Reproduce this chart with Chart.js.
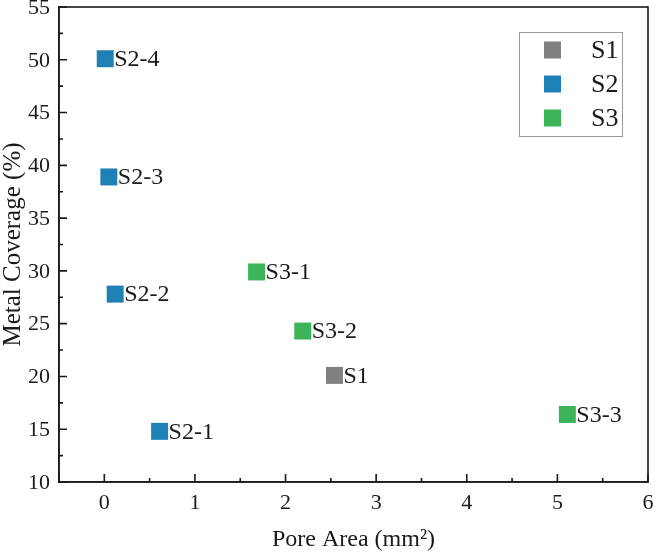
<!DOCTYPE html>
<html>
<head>
<meta charset="utf-8">
<script src="https://cdn.jsdelivr.net/npm/chart.js@4"></script>
<style>
  html, body { margin: 0; padding: 0; background: #fff; }
  #wrap { width: 655px; height: 556px; }
</style>
</head>
<body>
<div id="wrap"><canvas id="c" width="655" height="556"></canvas></div>
<script>
// data: pore area (mm2) vs metal coverage (%)
const s1X = [2.54];
const s1Y = [20.1];
const s1Names = ['S1'];
const s2X = [0.61, 0.12, 0.05, 0.01];
const s2Y = [14.8, 27.8, 38.9, 50.1];
const s2Names = ['S2-1', 'S2-2', 'S2-3', 'S2-4'];
const s3X = [1.68, 2.19, 5.11];
const s3Y = [29.9, 24.3, 16.4];
const s3Names = ['S3-1', 'S3-2', 'S3-3'];

const xTicks = [0, 1, 2, 3, 4, 5, 6];
const yTicks = [10, 15, 20, 25, 30, 35, 40, 45, 50, 55];
const xMinor = [-0.5, 0.5, 1.5, 2.5, 3.5, 4.5, 5.5];
const yMinor = [12.5, 17.5, 22.5, 27.5, 32.5, 37.5, 42.5, 47.5, 52.5];

const SERIES = ['S1', 'S2', 'S3'];
const COLORS = ['#808080', '#1f80b6', '#3db45a'];
const FONT = '"Liberation Serif", "Times New Roman", serif';
const INK = '#1a1a1a';

const pts = (xs, ys) => xs.map((x, i) => ({ x, y: ys[i] }));
const NAMES = [s1Names, s2Names, s3Names];

const datasets = [pts(s1X, s1Y), pts(s2X, s2Y), pts(s3X, s3Y)].map((d, i) => ({
  label: SERIES[i],
  data: d,
  pointStyle: 'rect',
  pointRadius: 12,
  pointHoverRadius: 12,
  backgroundColor: COLORS[i],
  borderColor: COLORS[i],
  borderWidth: 0,
}));

// frame, inward major/minor ticks and tick labels (labels drawn here so the
// "55" can sit half outside the plot like the original)
const frame = {
  id: 'frame',
  afterDraw(chart) {
    const { ctx, chartArea: a, scales: { x, y } } = chart;
    ctx.save();
    ctx.strokeStyle = INK;
    ctx.lineWidth = 1.6;
    ctx.strokeRect(a.left, a.top, a.right - a.left, a.bottom - a.top);
    ctx.beginPath();
    for (const v of xTicks) { const px = x.getPixelForValue(v); ctx.moveTo(px, a.bottom); ctx.lineTo(px, a.bottom - 8); }
    for (const v of xMinor) { const px = x.getPixelForValue(v); ctx.moveTo(px, a.bottom); ctx.lineTo(px, a.bottom - 4); }
    for (const v of yTicks) { const py = y.getPixelForValue(v); ctx.moveTo(a.left, py); ctx.lineTo(a.left + 8, py); }
    for (const v of yMinor) { const py = y.getPixelForValue(v); ctx.moveTo(a.left, py); ctx.lineTo(a.left + 4, py); }
    ctx.stroke();

    ctx.fillStyle = INK;
    ctx.font = '22px ' + FONT;
    ctx.textBaseline = 'middle';
    ctx.textAlign = 'center';
    for (const v of xTicks) ctx.fillText(String(v), x.getPixelForValue(v), a.bottom + 21);
    ctx.textAlign = 'right';
    for (const v of yTicks) ctx.fillText(String(v), a.left - 9, y.getPixelForValue(v) + 1);
    ctx.restore();
  }
};

// point names to the right of each marker
const pointNames = {
  id: 'pointNames',
  afterDatasetsDraw(chart) {
    const { ctx } = chart;
    ctx.save();
    ctx.font = '24px ' + FONT;
    ctx.fillStyle = INK;
    ctx.textBaseline = 'middle';
    chart.data.datasets.forEach((ds, i) => {
      chart.getDatasetMeta(i).data.forEach((el, j) => {
        ctx.fillText(NAMES[i][j], el.x + 9, el.y + 1);
      });
    });
    ctx.restore();
  }
};

// boxed legend in the top right of the plot
const boxLegend = {
  id: 'boxLegend',
  afterDraw(chart) {
    const { ctx, chartArea: a } = chart;
    const left = a.right - 129, top = a.top + 25, w = 103, h = 104;
    ctx.save();
    ctx.strokeStyle = '#9a9a9a';
    ctx.lineWidth = 1;
    ctx.strokeRect(left + 0.5, top + 0.5, w, h);
    ctx.font = '26px ' + FONT;
    ctx.textBaseline = 'middle';
    chart.data.datasets.forEach((ds, i) => {
      const cy = top + 18 + i * 34;
      ctx.fillStyle = ds.backgroundColor;
      ctx.fillRect(left + 25, cy - 8.5, 17, 17);
      ctx.fillStyle = INK;
      ctx.fillText(ds.label, left + 72, cy + 1);
    });
    ctx.restore();
  }
};

const axisCommon = (ticks) => ({
  type: 'linear',
  afterBuildTicks: (s) => { s.ticks = ticks.map(v => ({ value: v })); },
  grid: { drawOnChartArea: false, drawTicks: false },
  border: { display: true, color: INK, width: 1.6 },
  ticks: { display: false },
});

new Chart(document.getElementById('c'), {
  type: 'scatter',
  data: { datasets },
  plugins: [frame, pointNames, boxLegend],
  options: {
    responsive: false,
    animation: false,
    layout: { autoPadding: false, padding: { top: 7, right: 7, left: 0, bottom: 0 } },
    plugins: { legend: { display: false }, tooltip: { enabled: false } },
    scales: {
      x: Object.assign(axisCommon(xTicks), {
        min: -0.5, max: 6,
        afterFit: (s) => { s.height = 74; },
        title: { display: true, text: 'Pore Area (mm²)', color: INK,
          font: { family: FONT, size: 24 }, padding: { bottom: 2, top: 0 } },
      }),
      y: Object.assign(axisCommon(yTicks), {
        min: 10, max: 55,
        afterFit: (s) => { s.width = 59; },
        title: { display: true, text: 'Metal Coverage (%)', color: INK,
          font: { family: FONT, size: 25, lineHeight: 1 }, padding: { top: 1, bottom: 0 } },
      }),
    },
  },
});
</script>
</body>
</html>
